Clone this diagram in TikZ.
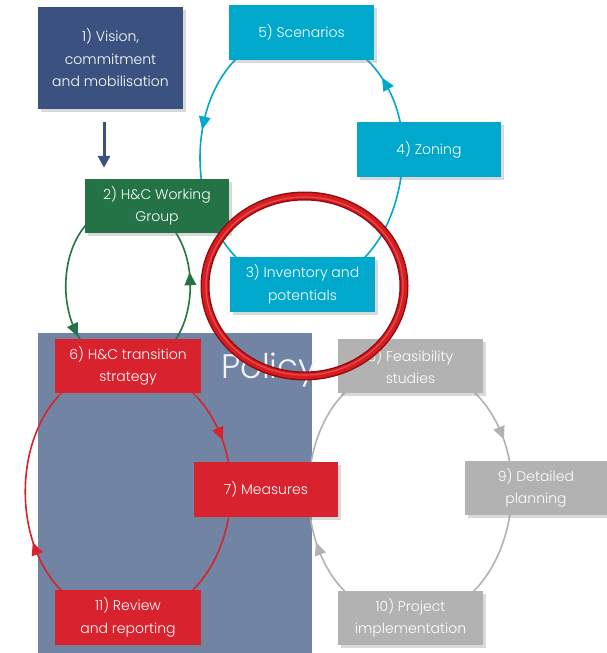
\documentclass[tikz,border=0pt]{standalone}
\usepackage{fontspec}
\setmainfont{Poppins}[UprightFont={* Light}]
\usetikzlibrary{arrows.meta,shadows,decorations.markings}

\definecolor{visionblue}{RGB}{59,82,128}
\definecolor{groupgreen}{RGB}{35,115,70}
\definecolor{dataacyan}{RGB}{0,168,204}
\definecolor{policyred}{RGB}{216,34,46}
\definecolor{projectgray}{RGB}{178,178,178}
\definecolor{policyback}{RGB}{113,132,164}
\definecolor{ringdark}{RGB}{150,10,14}
\definecolor{ringred}{RGB}{214,30,34}
\definecolor{ringlight}{RGB}{240,110,110}

\pgfdeclarelayer{back}
\pgfdeclarelayer{lines}
\pgfsetlayers{back,lines,main}

\begin{document}
\begin{tikzpicture}[x=1pt,y=1pt,semithick,
    box/.style={shape=rectangle,inner sep=0pt,minimum width=145pt,minimum height=55pt,
        align=center,text=white,font=\fontsize{14}{22.5}\selectfont,
        drop shadow={shadow xshift=2.5pt,shadow yshift=-2.5pt,opacity=0.3}},
    cycle/.style={line width=1.6pt},
    midarrow/.style={postaction={decorate,decoration={markings,
        mark=at position #1 with {\fill (7pt,0pt) -- (-6pt,6pt) -- (-6pt,-6pt) -- cycle;}}}}]
    \useasboundingbox (0,0) rectangle (607,-653);
    % policy frame
    \begin{pgfonlayer}{back}
        \fill[policyback](38,-333) rectangle (312,-653);
    \end{pgfonlayer}
    \node[anchor=base west,text=white!92!policyback,font=\fontsize{34}{34}\selectfont,inner sep=0pt](policy)at(221,-378){Policy};
    % steps
    \node[box,fill=visionblue,minimum height=102pt](1)at(110.5, -58){1) Vision,\\commitment\\and mobilisation};
    \node[box,fill=groupgreen,minimum width=144pt,minimum height=54pt](2)at(157, -206){2) H\&C Working\\Group};
    \node[box,fill=dataacyan](3)at(302.5, -284.5){3) Inventory and\\potentials};
    \node[box,fill=dataacyan,minimum width=144pt](4)at(429, -149.5){4) Zoning};
    \node[box,fill=dataacyan](5)at(301.5, -32.5){5) Scenarios};
    \node[box,fill=policyred,minimum width=146pt,minimum height=54pt](6)at(128, -366){6) H\&C transition\\strategy};
    \node[box,fill=policyred,minimum width=144pt](7)at(266, -489.5){7) Measures};
    \node[box,fill=projectgray,minimum height=54pt](8)at(410.5, -366){8) Feasibility\\studies};
    \node[box,fill=projectgray,minimum width=142pt,minimum height=54pt](9)at(536, -488){9) Detailed\\planning};
    \node[box,fill=projectgray,minimum height=54pt](10)at(410.5, -618){10) Project\\implementation};
    \node[box,fill=policyred,minimum width=146pt](11)at(128, -617.5){11) Review\\and reporting};
    % cycles
    \begin{pgfonlayer}{lines}
        \path[cycle,groupgreen]
        ([xshift=-29pt]2.center) edge [out=180,in=180,distance=83pt,midarrow=0.7] (6.center)
        (6.center) edge [out=0,in=0,distance=83pt,midarrow=0.53] ([xshift=-29pt]2.center);
        \path[cycle,dataacyan]
        (3.center) edge [out=0,in=-90] ([xshift=-26pt]4.center)
        ([xshift=-26pt]4.center) edge [out=90,in=0,midarrow=0.4] (5.center)
        (5.center) edge [out=180,in=180,distance=136pt,midarrow=0.4] (3.center);
        \path[cycle,policyred]
        (6.center) edge [out=0,in=90,midarrow=0.68] ([xshift=-35pt]7.center)
        ([xshift=-35pt]7.center) edge [out=-90,in=0] (11.center)
        (11.center) edge [out=180,in=180,distance=137pt,midarrow=0.34] (6.center);
        \path[cycle,projectgray]
        (8.center) edge [out=0,in=90,midarrow=0.68] ([xshift=-24pt]9.center)
        ([xshift=-24pt]9.center) edge [out=-90,in=0] (10.center)
        (10.center) edge [out=180,in=180,distance=136pt,midarrow=0.34] (8.center);
    \end{pgfonlayer}
    \draw[visionblue,line width=3pt,-{Triangle[length=12pt,width=12pt]},shorten <=13pt,shorten >=11pt]
        ([xshift=-6.5pt]1.south) -- ([xshift=-6.5pt]1.south |- 2.north);
    % focus ring
    \draw[ringdark,line width=9pt](304.5,-286) ellipse [x radius=99.5pt,y radius=90pt];
    \draw[ringred,line width=6pt](304.5,-286) ellipse [x radius=99.5pt,y radius=90pt];
    \draw[ringlight,line width=1.2pt,opacity=0.6](304.5,-286) ellipse [x radius=98.5pt,y radius=89pt];
\end{tikzpicture}
\end{document}
